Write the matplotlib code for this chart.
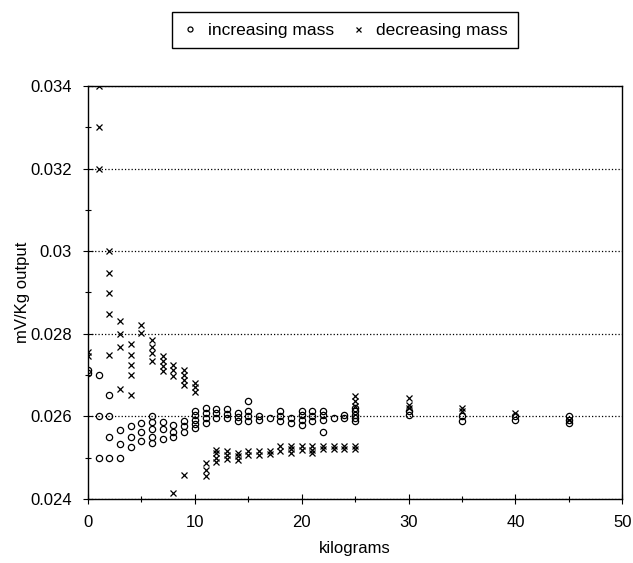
import matplotlib
matplotlib.use("Agg")
import matplotlib.pyplot as plt
from matplotlib.ticker import MultipleLocator

plt.rcParams['font.family'] = ['Liberation Sans', 'DejaVu Sans']

# increasing mass (circles): kg -> readings
inc_kg = [0, 0,
          1, 1, 1,
          2, 2, 2, 2,
          3, 3, 3,
          4, 4, 4,
          5, 5, 5,
          6, 6, 6, 6, 6,
          7, 7, 7,
          8, 8, 8,
          9, 9, 9,
          10, 10, 10, 10, 10,
          11, 11, 11, 11,
          12, 12, 12,
          13, 13, 13,
          14, 14, 14,
          15, 15, 15, 15,
          16, 16,
          17,
          18, 18, 18,
          19, 19,
          20, 20, 20, 20,
          21, 21, 21,
          22, 22, 22, 22,
          23,
          24, 24,
          25, 25, 25, 25, 25,
          30, 30,
          35, 35,
          40, 40,
          45, 45, 45]
inc_val = [0.02712, 0.02705,
           0.0270, 0.0260, 0.0250,
           0.02651, 0.0260, 0.0255, 0.0250,
           0.02566, 0.02534, 0.0250,
           0.02576, 0.0255, 0.02526,
           0.02584, 0.02561, 0.02541,
           0.0260, 0.02585, 0.02569, 0.02551, 0.02535,
           0.02585, 0.02569, 0.02545,
           0.02578, 0.02563, 0.02549,
           0.02588, 0.02576, 0.02563,
           0.02612, 0.02602, 0.02592, 0.02582, 0.02572,
           0.0262, 0.02608, 0.02596, 0.02584,
           0.02618, 0.02608, 0.02596,
           0.02618, 0.02606, 0.02596,
           0.02608, 0.02598, 0.02588,
           0.02636, 0.02612, 0.0260, 0.02588,
           0.0260, 0.02592,
           0.02596,
           0.02612, 0.0260, 0.02588,
           0.02596, 0.02584,
           0.02612, 0.02604, 0.02592, 0.0258,
           0.02612, 0.0260, 0.02588,
           0.02612, 0.02604, 0.02592, 0.02563,
           0.02596,
           0.02604, 0.02596,
           0.0262, 0.02612, 0.02604, 0.02596, 0.02588,
           0.02612, 0.02604,
           0.0260, 0.02588,
           0.0260, 0.02592,
           0.0260, 0.02592, 0.02584]

# decreasing mass (crosses)
dec_kg = [0, 0,
          1, 1, 1,
          2, 2, 2, 2, 2,
          3, 3, 3, 3,
          4, 4, 4, 4, 4,
          5, 5,
          6, 6, 6, 6,
          7, 7, 7, 7,
          8, 8, 8, 8,
          9, 9, 9, 9, 9,
          10, 10, 10,
          11, 11, 11,
          12, 12, 12, 12,
          13, 13, 13,
          14, 14, 14,
          15, 15,
          16, 16,
          17, 17,
          18, 18,
          19, 19, 19,
          20, 20,
          21, 21, 21,
          22, 22,
          23, 23,
          24, 24,
          25, 25, 25, 25, 25,
          30, 30, 30,
          35, 35,
          40,
          45]
dec_val = [0.02755, 0.02745,
           0.0340, 0.0330, 0.0320,
           0.0300, 0.02948, 0.02898, 0.02848, 0.02749,
           0.02832, 0.0280, 0.02768, 0.02667,
           0.02776, 0.02749, 0.02725, 0.02699, 0.02651,
           0.0282, 0.02803,
           0.02785, 0.02769, 0.02753, 0.02733,
           0.02745, 0.02733, 0.02721, 0.02709,
           0.02725, 0.02713, 0.02698, 0.02415,
           0.02713, 0.02701, 0.02689, 0.02676, 0.02457,
           0.0268, 0.02671, 0.0266,
           0.02487, 0.02471, 0.02455,
           0.02519, 0.0251, 0.02499, 0.02489,
           0.02515, 0.02505, 0.02497,
           0.02512, 0.02503, 0.02494,
           0.02515, 0.02505,
           0.02515, 0.02507,
           0.02517, 0.02509,
           0.02527, 0.02515,
           0.02527, 0.0252, 0.02511,
           0.02527, 0.02519,
           0.02527, 0.02519, 0.02511,
           0.02527, 0.0252,
           0.02527, 0.0252,
           0.02527, 0.0252,
           0.02648, 0.02636, 0.02624, 0.02527, 0.0252,
           0.02644, 0.02628, 0.0262,
           0.0262, 0.02612,
           0.02608,
           0.0259]

fig = plt.figure(figsize=(6.33, 5.63), dpi=100)
ax = fig.add_axes([0.139, 0.114, 0.844, 0.733])

ax.plot(inc_kg, inc_val, 'o', mfc='none', mec='black', ms=4.5, mew=0.9,
        label='increasing mass')
ax.plot(dec_kg, dec_val, 'x', color='black', ms=4.5, mew=0.9,
        label='decreasing mass')

ax.set_xlim(0, 50)
ax.set_ylim(0.024, 0.034)
ax.xaxis.set_major_locator(MultipleLocator(10))
ax.xaxis.set_minor_locator(MultipleLocator(5))
ax.yaxis.set_major_locator(MultipleLocator(0.002))
ax.yaxis.set_minor_locator(MultipleLocator(0.001))
ax.yaxis.set_major_formatter(plt.FuncFormatter(lambda v, p: ('%.3f' % v).rstrip('0')))
ax.tick_params(which='both', direction='inout', labelsize=12, width=0.8)
ax.tick_params(which='major', length=7)
ax.tick_params(which='minor', length=5)
ax.tick_params(axis='y', pad=8)
ax.tick_params(axis='x', pad=8)
ax.grid(axis='y', which='major', linestyle=':', color='black', linewidth=0.9)

for s in ax.spines.values():
    s.set_linewidth(1.0)

ax.set_xlabel('kilograms', fontsize=12, labelpad=8)
ax.set_ylabel('mV/Kg output', fontsize=12, labelpad=0)

fig.legend(loc='center', bbox_to_anchor=(0.545, 0.946), ncol=2, fontsize=12.5,
           frameon=True, fancybox=False, edgecolor='black', framealpha=1,
           handlelength=0.9, handletextpad=0.6, columnspacing=0.9,
           markerscale=0.8, borderpad=0.6)

plt.savefig('out.png', dpi=100)
